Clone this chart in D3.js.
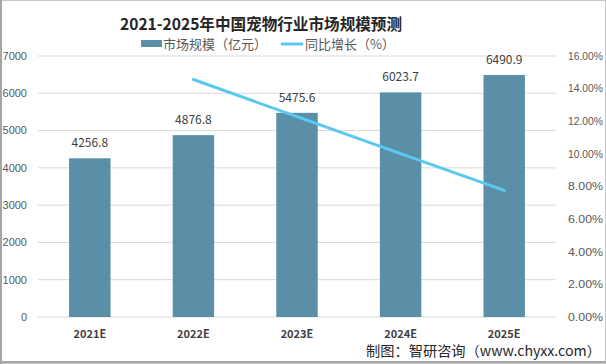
<!DOCTYPE html>
<html><head><meta charset="utf-8">
<script src="https://cdn.jsdelivr.net/npm/d3@7"></script>
<style>body{margin:0;background:#fff;}svg{display:block;font-family:"Microsoft YaHei","Noto Sans CJK SC",sans-serif;}</style>
</head><body><svg id="c" width="606" height="364"></svg>
<script>
const categories = ["2021E","2022E","2023E","2024E","2025E"];
const marketSize = [4256.8,4876.8,5475.6,6023.7,6490.9];
const growth = [null,14.56,12.28,10.01,7.76];
const leftTicks = [0,1000,2000,3000,4000,5000,6000,7000];
const rightTicks = [0,2,4,6,8,10,12,14,16];
const title = "2021-2025年中国宠物行业市场规模预测";
const legendLabels = ["市场规模（亿元）","同比增长（%）"];
const source = "制图：智研咨询（www.chyxx.com）";

const svg = d3.select("#c");
const W=606,H=364;
svg.append("rect").attr("x",0.5).attr("y",0.5).attr("width",W-1).attr("height",H-1).attr("fill","#fff").attr("stroke","#c8c8c8");
svg.append("line").attr("x1",1).attr("x2",1).attr("y1",0).attr("y2",H).attr("stroke","#a6a6a6").attr("stroke-width",2);
svg.append("line").attr("x1",0).attr("x2",W).attr("y1",H-2).attr("y2",H-2).attr("stroke","#a6a6a6").attr("stroke-width",2);

const x = d3.scaleBand().domain(categories).range([38,556]).paddingInner(0.6).paddingOuter(0.3);
const y = d3.scaleLinear().domain([0,7000]).range([317,56]);
const y2 = d3.scaleLinear().domain([0,16]).range([317,56]);

// gridlines
svg.append("g").selectAll("line").data(leftTicks).join("line")
  .attr("x1",38).attr("x2",556).attr("y1",d=>y(d)).attr("y2",d=>y(d))
  .attr("stroke","#d9d9d9").attr("stroke-width",1);

// left axis labels
svg.append("g").selectAll("text").data(leftTicks).join("text")
  .attr("x",27).attr("y",d=>y(d)).attr("dy","0.35em").attr("text-anchor","end")
  .attr("font-family","'Liberation Sans',Arial,sans-serif")
  .attr("font-size",11).attr("fill","#595959").text(d=>d);
// right axis labels
svg.append("g").selectAll("text").data(rightTicks).join("text")
  .attr("x",568).attr("y",d=>y2(d)).attr("dy","0.35em").attr("text-anchor","start")
  .attr("font-family","'Liberation Sans',Arial,sans-serif")
  .attr("textLength",35).attr("lengthAdjust","spacingAndGlyphs")
  .attr("font-size",11).attr("fill","#595959").text(d=>d.toFixed(2)+"%");

// bars
svg.append("g").selectAll("rect").data(marketSize).join("rect")
  .attr("x",(d,i)=>x(categories[i])).attr("width",x.bandwidth())
  .attr("y",d=>y(d)).attr("height",d=>y(0)-y(d)).attr("fill","#5b8fa8");
// labels
svg.append("g").selectAll("text").data(marketSize).join("text")
  .attr("x",(d,i)=>x(categories[i])+x.bandwidth()/2).attr("y",d=>y(d)-11)
  .attr("text-anchor","middle").attr("font-size",12).attr("fill","#404040").text(d=>d.toFixed(1));

// line
const line = d3.line().defined(d=>d.v!=null).x(d=>x(d.c)+x.bandwidth()/2).y(d=>y2(d.v));
svg.append("path").datum(categories.map((c,i)=>({c,v:growth[i]})))
  .attr("d",line).attr("fill","none").attr("stroke","#5bc8f0").attr("stroke-width",3).attr("stroke-linecap","round");

// category labels
svg.append("g").selectAll("text").data(categories).join("text")
  .attr("x",d=>x(d)+x.bandwidth()/2).attr("y",334).attr("dy","0.35em").attr("text-anchor","middle")
  .attr("font-size",11).attr("font-weight","bold").attr("fill","#404040").text(d=>d);

// title
svg.append("text").attr("x",261).attr("y",30).attr("text-anchor","middle")
  .attr("font-size",16).attr("font-weight","bold").attr("fill","#262626")
  .attr("textLength",282).attr("lengthAdjust","spacingAndGlyphs").text(title);

// legend
svg.append("rect").attr("x",141).attr("y",40).attr("width",21).attr("height",7).attr("fill","#5b8fa8");
svg.append("text").attr("x",163).attr("y",44).attr("dy","0.35em").attr("font-size",13).attr("fill","#595959").text(legendLabels[0]);
svg.append("line").attr("x1",282).attr("x2",302).attr("y1",44).attr("y2",44).attr("stroke","#5bc8f0").attr("stroke-width",3).attr("stroke-linecap","round");
svg.append("text").attr("x",305).attr("y",44).attr("dy","0.35em").attr("font-size",13).attr("fill","#595959").text(legendLabels[1]);

// source
svg.append("text").attr("x",601).attr("y",351).attr("dy","0.35em").attr("text-anchor","end")
  .attr("font-size",14).attr("fill","#262626").attr("textLength",235).attr("lengthAdjust","spacingAndGlyphs").text(source);
</script></body></html>
